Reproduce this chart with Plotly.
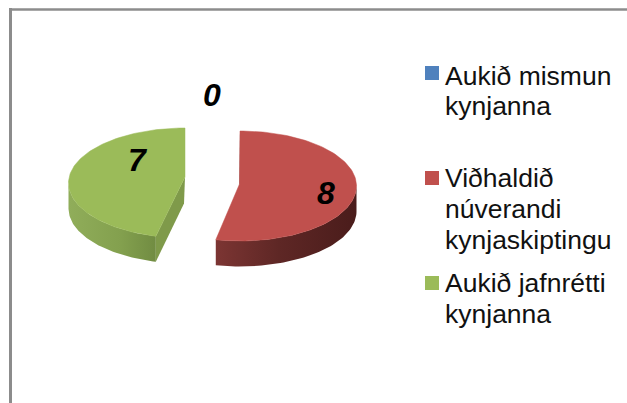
import numpy as np
import plotly.graph_objects as go

W, H = 627, 403
FONT = "Liberation Sans, Arial, sans-serif"

# Data
categories = [["Aukið mismun", "kynjanna"],
              ["Viðhaldið", "núverandi", "kynjaskiptingu"],
              ["Aukið jafnrétti", "kynjanna"]]
values = [0, 8, 7]
colors = ["#4f81bd", "#c0504d", "#9bbb59"]

# Drawing layout (page pixels)
arc_centres = {1: (240, 186), 2: (185, 183)}
apexes = {1: (239.5, 184), 2: (185, 177)}
perspective_skew = {1: 0.0, 2: 2.5}
radius_x, radius_y, depth = 116.5, 55, 25.5
wall_scales = {
    1: [[0, "#7c3533"], [0.45, "#5e2725"], [1, "#4a1c1b"]],
    2: [[0, "#90ad5a"], [0.6, "#83a04e"], [1, "#718c42"]],
}
inner_colors = {1: "#4a2422", 2: "#7f9a4a"}
label_xy = [(212, 97.5), (326, 195.5), (137, 162.5)]
legend_marker_y = [73, 178, 283]
legend_line_y = [[76, 106], [178, 209, 240], [283, 314]]

fig = go.Figure()


def poly(xs, ys, **kw):
    fig.add_trace(go.Scatter(x=xs, y=ys, mode="lines", fill="toself", hoverinfo="skip",
                             showlegend=False, **kw))


total = sum(values)
start = 0.0
for i, v in enumerate(values):
    sweep = 360.0 * v / total
    stop = start + sweep
    if v > 0:
        cx, cy = arc_centres[i]
        ax, ay = apexes[i]
        t = np.radians(np.linspace(start + perspective_skew[i], stop, 120))
        ex = cx + radius_x * np.sin(t)
        ey = cy - radius_y * np.cos(t)

        # outer wall: part of the arc on the near side
        near = np.cos(t) <= 0
        wx, wy = ex[near], ey[near]
        poly(np.r_[wx, wx[::-1]], np.r_[wy, wy[::-1] + depth],
             line=dict(width=0),
             fillgradient=dict(type="horizontal", colorscale=wall_scales[i]),
             fillcolor=colors[i])

        # inner cut wall
        if i == 1:
            poly([ex[0], ax, ax + 1.2, ex[0] + 0.8], [ey[0], ay, ay + 3, ey[0]],
                 line=dict(width=0), fillcolor=inner_colors[i])
        else:
            poly([ax, ax - 1, ex[0], ex[0]], [ay, ay + depth + 1, ey[0] + depth, ey[0]],
                 line=dict(width=0), fillcolor=inner_colors[i])

        # top face
        poly(np.r_[ax, ex, ax], np.r_[ay, ey, ay],
             line=dict(width=0.5, color=colors[i]), fillcolor=colors[i])
    start = stop

# Data labels
fig.add_trace(go.Scatter(
    x=[p[0] for p in label_xy], y=[p[1] for p in label_xy],
    mode="text", text=[f"<b><i>{v}</i></b>" for v in values],
    textposition="middle center",
    textfont=dict(family=FONT, size=32, color="#000000"),
    hoverinfo="skip", showlegend=False))

# Legend swatches
fig.add_trace(go.Scatter(
    x=[432] * 3, y=legend_marker_y, mode="markers",
    marker=dict(symbol="square", size=14, color=colors, line=dict(width=0)),
    hoverinfo="skip", showlegend=False))

for lines, ys in zip(categories, legend_line_y):
    for name, y in zip(lines, ys):
        fig.add_annotation(x=444, y=y, xref="x", yref="y", xanchor="left", yanchor="middle",
                           align="left", text=name, showarrow=False, borderpad=0,
                           font=dict(family=FONT, size=26.5, color="#111111"))

# Chart frame
fig.add_shape(type="line", x0=10.5, x1=10.5, y0=8, y1=H, xref="x", yref="y",
              line=dict(color="#8c8c8c", width=3))
fig.add_shape(type="line", x0=9, x1=W, y0=9.5, y1=9.5, xref="x", yref="y",
              line=dict(color="#8c8c8c", width=2.5))

fig.update_layout(
    width=W, height=H, margin=dict(l=0, r=0, t=0, b=0),
    paper_bgcolor="white", plot_bgcolor="white", showlegend=False,
    xaxis=dict(range=[0, W], visible=False, fixedrange=True),
    yaxis=dict(range=[H, 0], visible=False, fixedrange=True),
)
fig.write_html("out.html", config={"displayModeBar": False},
               post_script="document.body.style.margin='0';document.body.style.overflow='hidden';")
